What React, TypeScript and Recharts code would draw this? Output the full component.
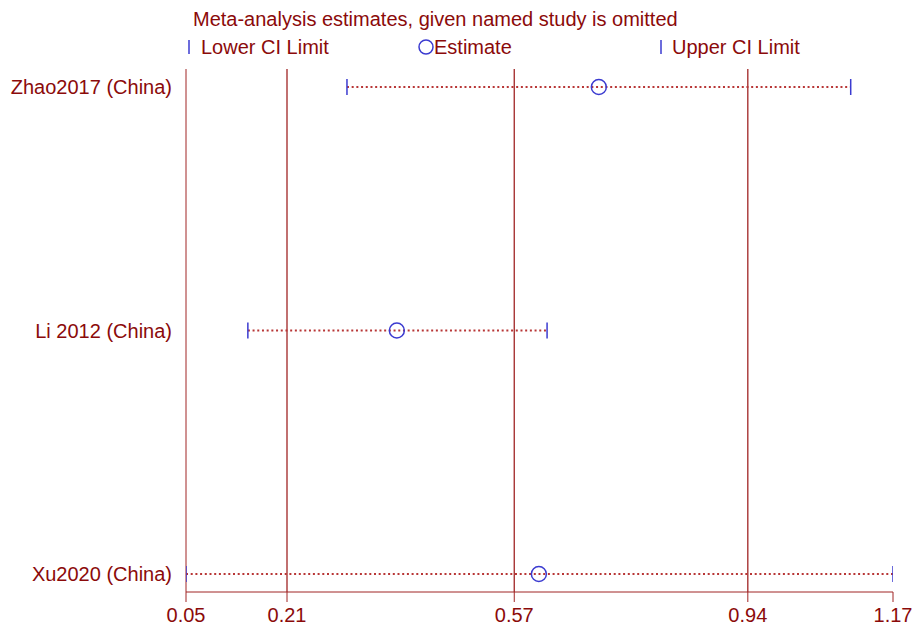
import { ScatterChart, Scatter, XAxis, YAxis, ReferenceLine } from "recharts";

const studies = ["Zhao2017 (China)", "Li 2012 (China)", "Xu2020 (China)"];
const lowerCI = [0.305, 0.148, 0.05];
const estimates = [0.704, 0.384, 0.609];
const upperCI = [1.103, 0.622, 1.17];
const xTicks = [0.05, 0.21, 0.57, 0.94, 1.17];

const DARK_RED = "#8b0a0a";
const LINE_RED = "#a02424";
const DOT_RED = "#b83636";
const BLUE = "#3b3bd0";
const FONT = "'Liberation Sans', Arial, sans-serif";

// one row per study, first study on top
const rows = studies.map((name, i) => {
    const y = studies.length - 1 - i;
    return {
        name,
        points: [
            { x: lowerCI[i], y, kind: "limit" },
            { x: estimates[i], y, kind: "est" },
            { x: upperCI[i], y, kind: "limit" },
        ],
    };
});

function Marker(props: any) {
    const { cx, cy, payload } = props;
    if (payload.kind === "est") {
        return <circle cx={cx} cy={cy} r={7.5} fill="none" stroke={BLUE} strokeWidth={1.5} />;
    }
    return <line x1={cx} x2={cx} y1={cy - 8} y2={cy + 8} stroke={BLUE} strokeWidth={1.5} />;
}

function Header() {
    const text = { position: "absolute" as const, fontSize: 20, lineHeight: "20px", color: DARK_RED, whiteSpace: "nowrap" as const };
    return (
        <>
            <div style={{ ...text, left: 193, top: 9 }}>Meta-analysis estimates, given named study is omitted</div>
            <svg style={{ position: "absolute", left: 0, top: 36 }} width={919} height={22}>
                <line x1={189} x2={189} y1={4} y2={18} stroke={BLUE} strokeWidth={1.5} />
                <circle cx={426} cy={11} r={7} fill="none" stroke={BLUE} strokeWidth={1.5} />
                <line x1={661} x2={661} y1={4} y2={18} stroke={BLUE} strokeWidth={1.5} />
            </svg>
            <div style={{ ...text, left: 201, top: 37 }}>Lower CI Limit</div>
            <div style={{ ...text, left: 434, top: 37 }}>Estimate</div>
            <div style={{ ...text, left: 672, top: 37 }}>Upper CI Limit</div>
        </>
    );
}

function App() {
    return (
        <div style={{ position: "absolute", left: 0, top: 0, width: 919, height: 626, fontFamily: FONT, background: "#fff" }}>
            <ScatterChart width={919} height={626} margin={{ top: 69, right: 26, bottom: 0, left: 0 }}>
                <XAxis
                    type="number"
                    dataKey="x"
                    domain={[0.05, 1.17]}
                    ticks={xTicks}
                    interval={0}
                    height={34}
                    allowDataOverflow
                    tickSize={10}
                    tickMargin={6}
                    stroke={LINE_RED}
                    tick={{ fill: DARK_RED, fontSize: 20, fontFamily: FONT }}
                />
                <YAxis
                    type="number"
                    dataKey="y"
                    domain={[-0.074, 2.074]}
                    ticks={[0, 1, 2]}
                    interval={0}
                    width={186}
                    allowDataOverflow
                    tickLine={false}
                    tickSize={0}
                    tickMargin={14}
                    stroke={LINE_RED}
                    tickFormatter={(v: number) => studies[studies.length - 1 - v]}
                    tick={{ fill: DARK_RED, fontSize: 20, fontFamily: FONT }}
                />
                {xTicks.slice(1, -1).map(t => (
                    <ReferenceLine key={t} x={t} stroke={LINE_RED} strokeWidth={1.3} />
                ))}
                {rows.map(r => (
                    <Scatter
                        key={r.name}
                        data={r.points}
                        isAnimationActive={false}
                        line={{ stroke: DOT_RED, strokeWidth: 2, strokeDasharray: "2 2.7" }}
                        shape={Marker}
                    />
                ))}
            </ScatterChart>
            <Header />
        </div>
    );
}

export default App;
